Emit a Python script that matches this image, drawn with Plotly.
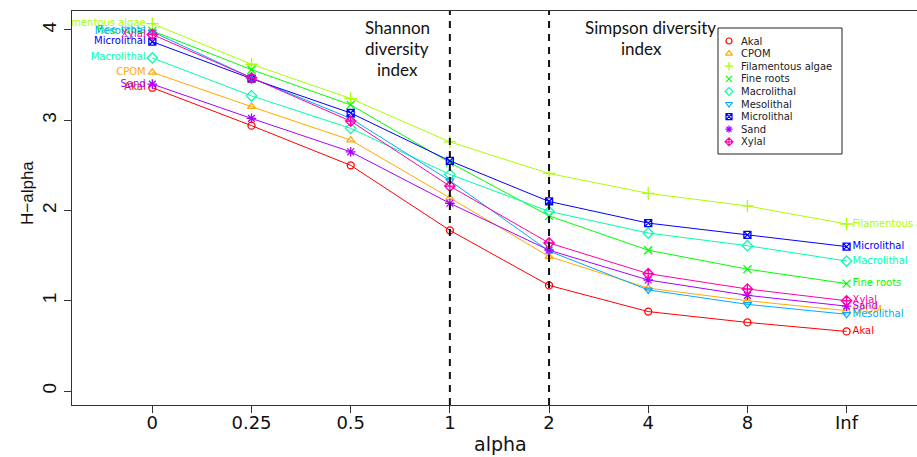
import plotly.graph_objects as go

# ---------------- data ----------------
alpha = ["0", "0.25", "0.5", "1", "2", "4", "8", "Inf"]
habitats = ["Akal", "CPOM", "Filamentous algae", "Fine roots", "Macrolithal",
            "Mesolithal", "Microlithal", "Sand", "Xylal"]
akal = [3.36, 2.94, 2.50, 1.78, 1.17, 0.88, 0.76, 0.66]
cpom = [3.53, 3.15, 2.78, 2.14, 1.49, 1.14, 1.00, 0.89]
filamentous_algae = [4.07, 3.62, 3.24, 2.76, 2.41, 2.19, 2.05, 1.85]
fine_roots = [3.99, 3.56, 3.17, 2.53, 1.94, 1.56, 1.35, 1.19]
macrolithal = [3.69, 3.27, 2.91, 2.40, 1.99, 1.75, 1.61, 1.44]
mesolithal = [3.98, 3.47, 3.02, 2.33, 1.55, 1.12, 0.96, 0.85]
microlithal = [3.87, 3.46, 3.08, 2.55, 2.10, 1.86, 1.73, 1.60]
sand = [3.40, 3.02, 2.65, 2.08, 1.56, 1.23, 1.06, 0.94]
xylal = [3.95, 3.47, 2.99, 2.27, 1.64, 1.30, 1.13, 1.00]
series = [akal, cpom, filamentous_algae, fine_roots, macrolithal,
          mesolithal, microlithal, sand, xylal]
y_ticks = [0, 1, 2, 3, 4]
index_lines = ["1", "2"]

# ---------------- styles ----------------
colors = ["#FF0000", "#FFAA00", "#AAFF00", "#00FF00", "#00FFAA",
          "#00AAFF", "#0000FF", "#AA00FF", "#FF00AA"]
symbols = ["circle-open", "triangle-up-open", "cross-thin-open", "x-thin-open",
           "diamond-open", "triangle-down-open", "square-x-open",
           "asterisk-open", "diamond-cross-open"]
msizes = [7, 7, 9, 8, 8, 7, 7, 8, 8]

W, H = 917, 457
PL, PR, PT, PB = 72, 917, 11, 405


def xp(px):
    return (px - PL) / (PR - PL)


def yp(py):
    return (PB - py) / (PB - PT)


fig = go.Figure()
for name, vals, c, s, ms in zip(habitats, series, colors, symbols, msizes):
    fig.add_trace(go.Scatter(
        x=alpha, y=vals, mode="lines+markers", name=name,
        line=dict(color=c, width=1),
        marker=dict(symbol=s, size=ms, color=c, line=dict(color=c, width=1.3)),
        showlegend=False, cliponaxis=False))

# end labels, clipped to the plot region (like R's text clipping)
for name, vals, c in zip(habitats, series, colors):
    fig.add_trace(go.Scatter(
        x=[alpha[0]], y=[vals[0]], mode="markers+text", text=[name],
        textposition="middle left", cliponaxis=True, showlegend=False, hoverinfo="skip",
        marker=dict(size=9, color="rgba(0,0,0,0)"),
        textfont=dict(family="DejaVu Sans", size=10, color=c)))
    fig.add_trace(go.Scatter(
        x=[alpha[-1]], y=[vals[-1]], mode="markers+text", text=[name],
        textposition="middle right", cliponaxis=True, showlegend=False, hoverinfo="skip",
        marker=dict(size=8, color="rgba(0,0,0,0)"),
        textfont=dict(family="DejaVu Sans", size=10, color=c)))

annotations = []
# region captions
cap_font = dict(family="Lato", size=17, color="#111")
for txt, cx, cy in [("Shannon", 397, 28), ("diversity", 397, 48), ("index", 397, 69),
                    ("Simpson diversity", 650, 28), ("index", 641, 48)]:
    annotations.append(dict(x=xp(cx), y=yp(cy), xref="paper", yref="paper", text=txt,
                            showarrow=False, xanchor="center", yanchor="middle",
                            font=cap_font))

# axis titles
annotations.append(dict(x=xp(500), y=yp(444), xref="paper", yref="paper", text="alpha",
                        showarrow=False, xanchor="center", yanchor="middle",
                        font=dict(family="DejaVu Sans", size=19, color="#111")))
annotations.append(dict(x=xp(27), y=yp(193), xref="paper", yref="paper", text="H\u2212alpha",
                        showarrow=False, xanchor="center", yanchor="middle", textangle=-90,
                        font=dict(family="Liberation Sans", size=17, color="#111")))

# manual legend (compact R-style)
leg_x_mark, leg_x_text, leg_y0, leg_dy = 729, 739, 41, 12.6
for i, name in enumerate(habitats):
    annotations.append(dict(x=xp(leg_x_text), y=yp(leg_y0 + i * leg_dy), xref="paper",
                            yref="paper", text=name, showarrow=False, xanchor="left",
                            yanchor="middle",
                            font=dict(family="DejaVu Sans", size=10, color="#222")))
fig.add_trace(go.Scatter(
    x=[xp(leg_x_mark)] * len(habitats),
    y=[yp(leg_y0 + i * leg_dy) for i in range(len(habitats))],
    xaxis="x2", yaxis="y2", mode="markers", showlegend=False, hoverinfo="skip",
    marker=dict(symbol=symbols, size=6, color=colors, line=dict(color=colors, width=1.2))))

shapes = [dict(type="rect", xref="paper", yref="paper", x0=xp(718), x1=xp(842),
               y0=yp(154), y1=yp(28), line=dict(color="#222", width=1),
               fillcolor="rgba(0,0,0,0)")]
for lab in index_lines:
    k = alpha.index(lab)
    shapes.append(dict(type="line", xref="x", yref="paper", x0=k, x1=k, y0=0, y1=1,
                       line=dict(color="#111", width=2, dash="7px,6px"), layer="above"))

fig.update_layout(
    width=W, height=H,
    margin=dict(l=PL, r=W - PR, t=PT, b=H - PB),
    paper_bgcolor="white", plot_bgcolor="white",
    showlegend=False,
    annotations=annotations, shapes=shapes,
    xaxis=dict(type="category", categoryorder="array", categoryarray=alpha,
               range=[-0.81, 7.71], showgrid=False, zeroline=False,
               showline=True, mirror=True, linecolor="#333", linewidth=1,
               ticks="outside", ticklen=7, tickcolor="#333", ticklabelstandoff=-6,
               tickfont=dict(family="DejaVu Sans", size=18, color="#111")),
    yaxis=dict(range=[-0.155, 4.21], tickvals=y_ticks, showgrid=False, zeroline=False,
               showline=True, linecolor="#333", linewidth=1,
               ticks="outside", ticklen=7, tickcolor="#333", tickangle=-90,
               tickfont=dict(family="Liberation Sans", size=19, color="#111")),
    xaxis2=dict(overlaying="x", anchor="y2", range=[0, 1], visible=False),
    yaxis2=dict(overlaying="y", anchor="x2", range=[0, 1], visible=False),
)

fig.write_html("out.html")
